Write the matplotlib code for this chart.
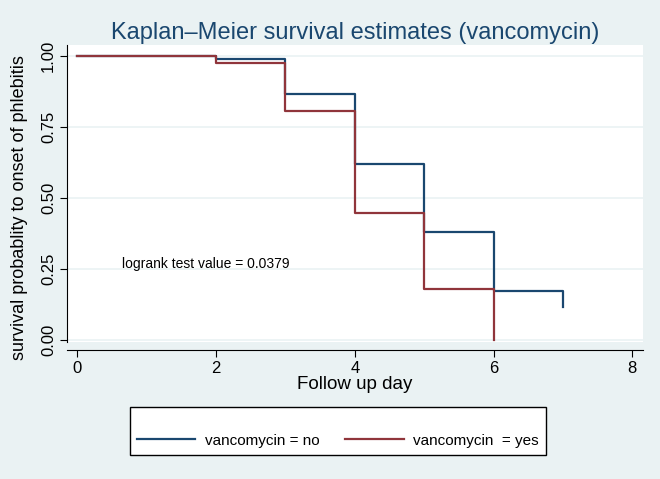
import matplotlib.pyplot as plt

# Kaplan-Meier step values
days_no = [0, 2, 3, 4, 5, 6, 7]
surv_no = [1.0, 0.988, 0.866, 0.620, 0.379, 0.1725, 0.117]
days_yes = [0, 2, 3, 4, 5, 6]
surv_yes = [1.0, 0.976, 0.805, 0.446, 0.180, 0.0]

x_ticks = [0, 2, 4, 6, 8]
y_ticks = [0.0, 0.25, 0.50, 0.75, 1.00]
y_ticklabels = ['0.00', '0.25', '0.50', '0.75', '1.00']
labels = ['vancomycin = no', 'vancomycin  = yes']

bg = '#eaf2f3'
navy = '#1a476f'
maroon = '#90353b'

plt.rcParams['font.family'] = ['Liberation Sans', 'DejaVu Sans']

fig = plt.figure(figsize=(6.6, 4.79), dpi=100, facecolor=bg)
ax = fig.add_axes([67 / 660, 1 - 342 / 479, (643 - 67) / 660, (342 - 45) / 479])
ax.set_facecolor('white')

# survival curves
ax.step(days_no, surv_no, where='post', color=navy, lw=1.6, label=labels[0])
ax.step(days_yes, surv_yes, where='post', color=maroon, lw=1.6, label=labels[1])

ax.set_xlim(-0.149, 8.155)
ax.set_ylim(-0.007, 1.039)
ax.set_xticks(x_ticks)
ax.set_yticks(y_ticks)
ax.set_yticklabels(y_ticklabels, rotation=90, va='center')
ax.tick_params(labelsize=12, length=5, color='black', pad=3)
ax.grid(axis='y', color=bg, lw=1.2)
ax.set_axisbelow(True)

for s in ['top', 'right']:
    ax.spines[s].set_visible(False)
ax.spines['bottom'].set_position(('outward', 6))

ax.set_xlabel('Follow up day', fontsize=13.5, labelpad=0)
ax.set_ylabel('survival probablity to onset of phlebitis', fontsize=13)
ax.yaxis.set_label_coords(-0.067, 0.451)
ax.set_title('Kaplan\u2013Meier survival estimates (vancomycin)', fontsize=17,
             color=navy, pad=4)

ax.text(0.65, 0.268, 'logrank test value = 0.0379', fontsize=10, va='center')

# legend box below the plot
leg = fig.legend(loc='center', bbox_to_anchor=(338 / 660, 1 - 431 / 479), ncol=2,
                 title=' ', title_fontsize=9, fontsize=11, handlelength=3.8,
                 handletextpad=0.65, columnspacing=1.7, frameon=True, fancybox=False,
                 edgecolor='black', facecolor='white', framealpha=1.0, borderpad=0.45)
leg.get_frame().set_linewidth(1.0)

fig.savefig('out.png', dpi=100, facecolor=bg)
